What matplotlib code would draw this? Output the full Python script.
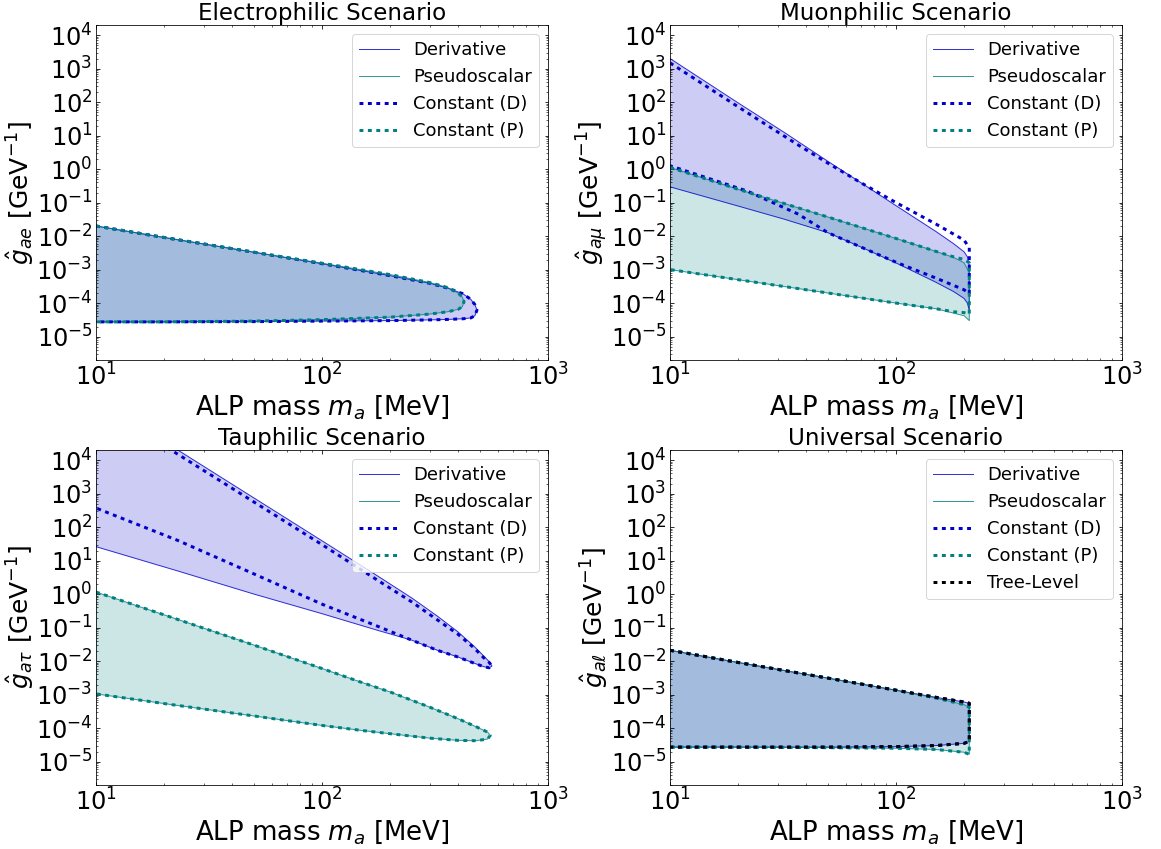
import numpy as np
import matplotlib
matplotlib.use("Agg")
from matplotlib import pyplot as plt
from matplotlib.ticker import LogLocator, NullFormatter

# ---- Electrophilic: masses [MeV] and coupling bounds [GeV^-1]
e_mass_d = [10, 20, 50, 100, 200, 300, 360, 420, 455, 475, 485]
e_up_d = [2.0e-2, 9.1e-3, 3.3e-3, 1.5e-3, 6.6e-4, 3.9e-4, 2.8e-4, 1.9e-4, 1.3e-4, 9.0e-5, 6.2e-5]
e_lo_d = [2.75e-5, 2.75e-5, 2.8e-5, 2.9e-5, 3.0e-5, 3.15e-5, 3.25e-5, 3.4e-5, 3.6e-5, 4.2e-5, 6.2e-5]
e_mass_p = [10, 20, 50, 100, 200, 300, 360, 400, 418, 425]
e_up_p = [2.0e-2, 9.1e-3, 3.3e-3, 1.55e-3, 7.1e-4, 4.1e-4, 2.9e-4, 2.0e-4, 1.5e-4, 1.1e-4]
e_lo_p = [2.75e-5, 2.75e-5, 2.9e-5, 3.2e-5, 3.8e-5, 4.7e-5, 5.5e-5, 6.5e-5, 7.8e-5, 1.1e-4]

# ---- Muonphilic (kinematic end at 2 m_mu)
mu_mass_d = [10, 20, 32, 50, 70, 100, 150, 180, 200, 207, 211]
mu_up_d = [2000, 95, 12.5, 1.7, 0.39, 0.081, 0.0138, 5.9e-3, 3.4e-3, 2.4e-3, 1.35e-3]
mu_lo_d = [0.295, 0.079, 0.032, 0.0126, 4.7e-3, 1.58e-3, 4.2e-4, 2.2e-4, 1.38e-4, 1.0e-4, 6.0e-5]
mu_mass_cd = [10, 22, 37, 50, 70, 100, 150, 200, 211]
mu_up_cd = [1480, 48, 5.2, 1.5, 0.39, 0.10, 0.023, 7.6e-3, 4.5e-3]
mu_lo_cd = [1.26, 0.22, 0.045, 0.0126, 4.7e-3, 1.66e-3, 5.6e-4, 2.5e-4, 1.9e-4]
mu_mass_p = [10, 20, 50, 100, 150, 180, 200, 211]
mu_up_p = [1.12, 0.25, 0.037, 8.5e-3, 3.5e-3, 2.3e-3, 1.6e-3, 7.9e-4]
mu_lo_p = [1.0e-3, 5.0e-4, 2.0e-4, 1.0e-4, 6.8e-5, 5.0e-5, 4.2e-5, 3.0e-5]
mu_up_cp = [1.12, 0.25, 0.037, 8.5e-3, 3.5e-3, 2.4e-3, 2.0e-3, 1.6e-3]
mu_lo_cp = [1.0e-3, 5.0e-4, 2.0e-4, 1.0e-4, 6.8e-5, 5.5e-5, 5.2e-5, 4.7e-5]

# ---- Tauphilic
tau_mass_d = [10, 23, 50, 100, 176, 250, 324, 400, 470, 520, 550, 565]
tau_up_d = [7.1e5, 2.0e4, 740, 39, 3.5, 0.76, 0.22, 0.074, 0.028, 0.0141, 9.5e-3, 7.1e-3]
tau_lo_d = [26, 4.9, 1.0, 0.26, 0.083, 0.042, 0.021, 0.0132, 8.7e-3, 6.8e-3, 6.3e-3, 7.1e-3]
tau_up_cd = [5.0e5, 1.5e4, 560, 30, 2.6, 0.58, 0.17, 0.063, 0.025, 0.0125, 9.0e-3, 7.1e-3]
tau_lo_cd = [370, 40, 4.0, 0.5, 0.11, 0.042, 0.021, 0.0132, 8.7e-3, 6.8e-3, 6.3e-3, 7.1e-3]
tau_mass_p = [10, 20, 50, 100, 150, 200, 300, 400, 480, 540, 555]
tau_up_p = [1.15, 0.24, 0.030, 6.0e-3, 2.3e-3, 1.2e-3, 4.2e-4, 1.9e-4, 1.1e-4, 7.6e-5, 6.0e-5]
tau_lo_p = [1.05e-3, 5.4e-4, 2.3e-4, 1.2e-4, 8.5e-5, 6.8e-5, 5.0e-5, 4.3e-5, 4.2e-5, 4.7e-5, 6.0e-5]

# ---- Universal
u_mass = [10, 20, 50, 100, 150, 200, 211]
u_up_d = [0.021, 9.1e-3, 3.1e-3, 1.35e-3, 8.3e-4, 6.0e-4, 5.5e-4]
u_lo_d = [2.7e-5, 2.7e-5, 2.7e-5, 2.8e-5, 3.0e-5, 3.5e-5, 4.0e-5]
u_up_p = [0.021, 9.1e-3, 3.1e-3, 1.35e-3, 7.9e-4, 5.0e-4, 4.2e-4]
u_lo_p = [2.7e-5, 2.7e-5, 2.6e-5, 2.5e-5, 2.3e-5, 1.9e-5, 1.65e-5]

blue = 'mediumblue'
teal = 'teal'


def contour(m, up, lo):
    # closed outline: upper branch out to the end, lower branch back
    return list(m) + list(m)[::-1], list(up) + list(lo)[::-1]


def region(ax, m, up, lo, color, label):
    x, y = contour(m, up, lo)
    ax.fill(x, y, color=color, alpha=0.2, lw=0)
    ax.plot(x, y, color=color, lw=1, alpha=0.8, label=label)


def dotted(ax, m, up, lo, color, label):
    x, y = contour(m, up, lo)
    ax.plot(x, y, color=color, lw=3, dashes=(1.3, 1.5), label=label)


def style(ax, title, ylab):
    ax.set_xscale('log')
    ax.set_yscale('log')
    ax.set_xlim(10, 1000)
    ax.set_ylim(2e-6, 2e4)
    ax.yaxis.set_major_locator(LogLocator(base=10, numticks=15))
    ax.yaxis.set_minor_locator(LogLocator(base=10, subs=np.arange(2, 10), numticks=15))
    ax.yaxis.set_minor_formatter(NullFormatter())
    ax.tick_params(which='both', direction='in', top=True, right=True, labelsize=24)
    ax.set_title(title, fontsize=23, pad=4)
    ax.set_xlabel(r'ALP mass $m_a$ [MeV]', fontsize=26, labelpad=2)
    ax.set_ylabel(ylab, fontsize=25, labelpad=0)


fig = plt.figure(figsize=(1161 / 72, 849 / 72), dpi=72)
W, H = 452 / 1161, 335 / 849
ax1 = fig.add_axes([96 / 1161, 489 / 849, W, H])
ax2 = fig.add_axes([670 / 1161, 489 / 849, W, H])
ax3 = fig.add_axes([96 / 1161, 64 / 849, W, H])
ax4 = fig.add_axes([670 / 1161, 64 / 849, W, H])

# Electrophilic
region(ax1, e_mass_d, e_up_d, e_lo_d, blue, 'Derivative')
region(ax1, e_mass_p, e_up_p, e_lo_p, teal, 'Pseudoscalar')
dotted(ax1, e_mass_d, e_up_d, e_lo_d, blue, 'Constant (D)')
dotted(ax1, e_mass_p, e_up_p, e_lo_p, teal, 'Constant (P)')
style(ax1, 'Electrophilic Scenario', r'$\hat{g}_{ae}$ [GeV$^{-1}$]')

# Muonphilic
region(ax2, mu_mass_d, mu_up_d, mu_lo_d, blue, 'Derivative')
region(ax2, mu_mass_p, mu_up_p, mu_lo_p, teal, 'Pseudoscalar')
dotted(ax2, mu_mass_cd, mu_up_cd, mu_lo_cd, blue, 'Constant (D)')
dotted(ax2, mu_mass_p, mu_up_cp, mu_lo_cp, teal, 'Constant (P)')
style(ax2, 'Muonphilic Scenario', r'$\hat{g}_{a\mu}$ [GeV$^{-1}$]')

# Tauphilic
region(ax3, tau_mass_d, tau_up_d, tau_lo_d, blue, 'Derivative')
region(ax3, tau_mass_p, tau_up_p, tau_lo_p, teal, 'Pseudoscalar')
dotted(ax3, tau_mass_d, tau_up_cd, tau_lo_cd, blue, 'Constant (D)')
dotted(ax3, tau_mass_p, tau_up_p, tau_lo_p, teal, 'Constant (P)')
style(ax3, 'Tauphilic Scenario', r'$\hat{g}_{a\tau}$ [GeV$^{-1}$]')

# Universal
region(ax4, u_mass, u_up_d, u_lo_d, blue, 'Derivative')
region(ax4, u_mass, u_up_p, u_lo_p, teal, 'Pseudoscalar')
dotted(ax4, u_mass, u_up_d, u_lo_d, blue, 'Constant (D)')
dotted(ax4, u_mass, u_up_p, u_lo_p, teal, 'Constant (P)')
dotted(ax4, u_mass, u_up_d, u_lo_d, 'black', 'Tree-Level')
style(ax4, 'Universal Scenario', r'$\hat{g}_{a\ell}$ [GeV$^{-1}$]')

for ax in (ax1, ax2, ax3, ax4):
    ax.legend(loc='upper right', fontsize=18, handlelength=2.2)

fig.savefig('out.png', dpi=72)
